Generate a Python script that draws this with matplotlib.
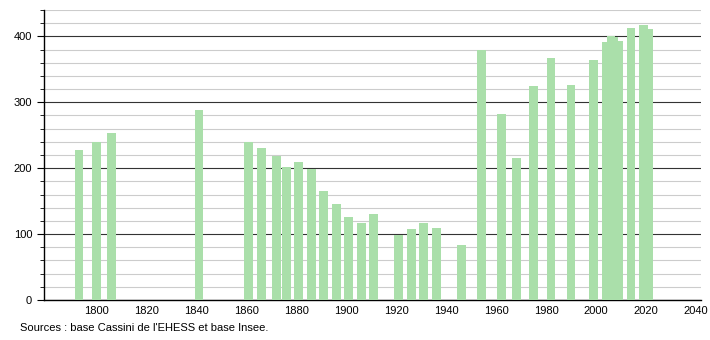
import matplotlib
matplotlib.use('Agg')
import matplotlib.pyplot as plt
from matplotlib.ticker import MultipleLocator

plt.rcParams['font.family'] = ['Liberation Sans', 'DejaVu Sans']

# census years and population
years = [1793, 1800, 1806, 1841, 1861, 1866, 1872, 1876, 1881, 1886,
         1891, 1896, 1901, 1906, 1911, 1921, 1926, 1931, 1936, 1946,
         1954, 1962, 1968, 1975, 1982, 1990, 1999, 2004, 2006, 2007,
         2009, 2014, 2019, 2021]
population = [227, 240, 253, 289, 240, 231, 218, 202, 210, 199,
              166, 145, 126, 117, 131, 98, 108, 117, 110, 84,
              379, 282, 216, 324, 367, 326, 364, 392, 400, 399,
              393, 412, 417, 411]

source_text = "Sources : base Cassini de l'EHESS et base Insee."

fig = plt.figure(figsize=(7.1, 3.4), dpi=100)
ax = fig.add_axes([44/710, 40/340, 657/710, 290/340])

ax.bar(years, population, width=3.5, color='#aadfaa', zorder=3)

ax.set_xlim(1779, 2042)
ax.set_ylim(0, 440)

ax.yaxis.set_major_locator(MultipleLocator(100))
ax.yaxis.set_minor_locator(MultipleLocator(20))
ax.xaxis.set_major_locator(MultipleLocator(20))
ax.set_xticks(range(1800, 2041, 20))

ax.grid(axis='y', which='minor', color='#cccccc', linewidth=0.8, zorder=1)
ax.grid(axis='y', which='major', color='#333333', linewidth=0.8, zorder=2)

for side in ['top', 'right']:
    ax.spines[side].set_visible(False)
ax.spines['left'].set_linewidth(1)
ax.spines['bottom'].set_linewidth(1)

ax.tick_params(axis='y', which='major', length=5, labelsize=8, colors='black')
ax.tick_params(axis='y', which='minor', length=3)
ax.tick_params(axis='x', length=0, labelsize=8, pad=4)

fig.text(20/710, 1 - 328/340, source_text, fontsize=8, va='center', ha='left')

plt.savefig('out.png', dpi=100)
